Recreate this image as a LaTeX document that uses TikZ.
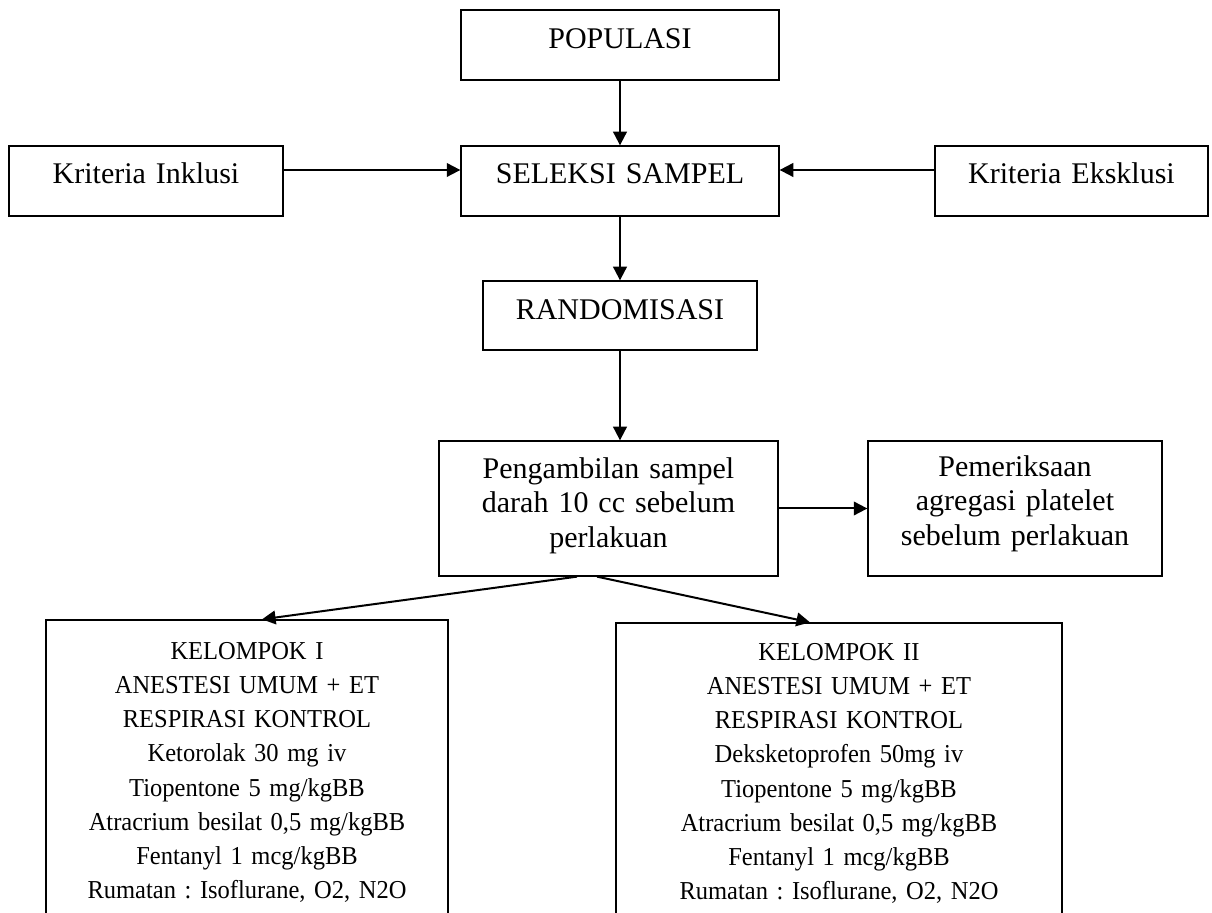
\documentclass[tikz,border=0pt]{standalone}
\usepackage{fontspec}
\setmainfont{Liberation Serif}
\newfontfamily\condensedserif[FakeStretch=0.95]{Liberation Serif}
\usetikzlibrary{arrows.meta,calc}
\begin{document}
\frenchspacing
\begin{tikzpicture}[x=0.5pt,y=-0.5pt,
  box/.style={draw, line width=0.65pt, inner sep=0pt, rectangle},
  arr/.style={line width=1pt, -{Triangle[length=6.8pt,width=6.8pt]}},
  lbl/.style={inner sep=0pt, anchor=base, align=center, font=\fontsize{15}{17.25}\selectfont},
  lblsmall/.style={inner sep=0pt, anchor=base, align=center, font=\condensedserif\fontsize{12.9}{17.1}\selectfont}]
\useasboundingbox (0,0) rectangle (1212,913);
\clip (0,0) rectangle (1212,913);
% boxes
\node[box, minimum width=159pt, minimum height=35pt] (pop) at (620,45) {};
\node[box, minimum width=159pt, minimum height=35pt] (sel) at (620,181) {};
\node[box, minimum width=137pt, minimum height=35pt] (inkl) at (146,181) {};
\node[box, minimum width=136.5pt, minimum height=35pt] (eks) at (1071.5,181) {};
\node[box, minimum width=137pt, minimum height=34.5pt] (rand) at (620,315.5) {};
\node[box, minimum width=169.5pt, minimum height=67.5pt] (peng) at (608.5,508.5) {};
\node[box, minimum width=147pt, minimum height=67.5pt] (pem) at (1015,508.5) {};
\node[box, minimum width=201pt, minimum height=170pt] (k1) at (247,790) {};
\node[box, minimum width=223pt, minimum height=170pt] (k2) at (839,793) {};
% texts
\node[lbl, text width=150pt] (popt) at ($(pop.north)+(0,39)$) {POPULASI};
\node[lbl, text width=150pt] (selt) at ($(sel.north)+(0,38)$) {SELEKSI SAMPEL};
\node[lbl, text width=130pt] (inklt) at ($(inkl.north)+(0,38)$) {Kriteria Inklusi};
\node[lbl, text width=130pt] (ekst) at ($(eks.north)+(0,38)$) {Kriteria Eksklusi};
\node[lbl, text width=130pt] (randt) at ($(rand.north)+(0,39)$) {RANDOMISASI};
\node[lbl, text width=165pt] (pengt) at ($(peng.north)+(0,38)$) {Pengambilan sampel\\darah 10 cc sebelum\\perlakuan};
\node[lbl, text width=145pt] (pemt) at ($(pem.north)+(0,36)$) {Pemeriksaan\\agregasi platelet\\sebelum perlakuan};
\node[lblsmall, text width=198pt] (k1t) at ($(k1.north)+(0,40)$) {KELOMPOK I\\ANESTESI UMUM + ET\\RESPIRASI KONTROL\\Ketorolak 30 mg iv\\Tiopentone 5 mg/kgBB\\Atracrium besilat 0,5 mg/kgBB\\Fentanyl 1 mcg/kgBB\\Rumatan : Isoflurane, O2, N2O};
\node[lblsmall, text width=220pt] (k2t) at ($(k2.north)+(0,38)$) {KELOMPOK II\\ANESTESI UMUM + ET\\RESPIRASI KONTROL\\Deksketoprofen 50mg iv\\Tiopentone 5 mg/kgBB\\Atracrium besilat 0,5 mg/kgBB\\Fentanyl 1 mcg/kgBB\\Rumatan : Isoflurane, O2, N2O};
% connectors
\draw[arr] (pop.south) -- (sel.north);
\draw[arr] (sel.south) -- (rand.north);
\draw[arr] (rand.south) -- (rand.south |- peng.north);
\draw[arr] ([yshift=5.5pt]inkl.east) -- ([yshift=5.5pt]sel.west);
\draw[arr] ([yshift=5.5pt]eks.west) -- ([yshift=5.5pt]sel.east);
\draw[arr] (peng.east) -- (peng.east -| pem.west);
\draw[arr] ([xshift=-15.75pt]peng.south) -- ([xshift=7.5pt]k1.north);
\draw[arr] ([xshift=-5.75pt]peng.south) -- ([xshift=-14.5pt]k2.north);
\end{tikzpicture}
\end{document}
